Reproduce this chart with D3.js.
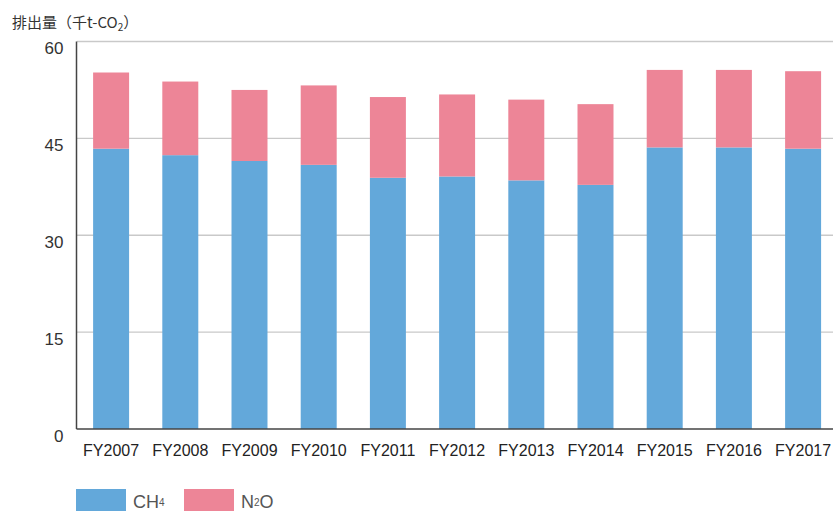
<!DOCTYPE html>
<html>
<head>
<meta charset="utf-8">
<script src="https://cdn.jsdelivr.net/npm/d3@7"></script>
<style>
body { margin: 0; background: #fff; }
svg { display: block; font-family: "Liberation Sans", Arial, sans-serif; }
</style>
</head>
<body>
<div id="chart"></div>
<script>
// data (thousand t-CO2)
let years = ['FY2007','FY2008','FY2009','FY2010','FY2011','FY2012','FY2013','FY2014','FY2015','FY2016','FY2017']
let ch4 = [43.4, 42.4, 41.5, 40.9, 38.9, 39.1, 38.5, 37.8, 43.6, 43.6, 43.4]
let n2o = [11.8, 11.4, 11.0, 12.3, 12.5, 12.7, 12.5, 12.5, 12.0, 12.0, 12.0]
let yTicks = [0, 15, 30, 45, 60]
let seriesNames = ['CH4', 'N2O']
let colors = ['#63a8da', '#ed8597']

let size = { width: 833, height: 511 }

let svg = d3.select('#chart')
  .append('svg')
  .attr('width', size.width)
  .attr('height', size.height)

let xScale = d3.scaleBand()
  .domain(years)
  .range([76.5, 837.7])
  .paddingInner(0.48)
  .paddingOuter(0.24)

let yScale = d3.scaleLinear()
  .domain([0, 60])
  .range([429, 41.5])

// stacked rows
let rows = years.map((y, i) => ({ year: y, CH4: ch4[i], N2O: n2o[i] }))
let stacked = d3.stack().keys(seriesNames)(rows)

// gridlines
svg.append('g')
  .selectAll('line')
  .data(yTicks.filter(d => d > 0))
  .join('line')
  .attr('x1', 77)
  .attr('x2', size.width)
  .attr('y1', d => yScale(d))
  .attr('y2', d => yScale(d))
  .attr('stroke', '#c9c9c9')
  .attr('stroke-width', 1.3)

// bars
svg.append('g')
  .selectAll('g')
  .data(stacked)
  .join('g')
  .attr('fill', (d, i) => colors[i])
  .selectAll('rect')
  .data(d => d)
  .join('rect')
  .attr('x', d => xScale(d.data.year))
  .attr('width', xScale.bandwidth())
  .attr('y', d => yScale(d[1]))
  .attr('height', d => yScale(d[0]) - yScale(d[1]))

// y axis
let yAxis = d3.axisLeft(yScale).tickValues(yTicks).tickSize(0).tickPadding(13)
let gY = svg.append('g')
  .attr('transform', 'translate(76.5,0)')
  .call(yAxis)
gY.select('.domain').remove()
gY.selectAll('text')
  .attr('font-size', 17)
  .attr('fill', '#333')
  .attr('dy', '0.95em')
  .attr('transform', 'translate(0,-4)')

svg.append('line')
  .attr('x1', 76.5).attr('x2', 76.5)
  .attr('y1', yScale(60)).attr('y2', yScale(0))
  .attr('stroke', '#444').attr('stroke-width', 1.5)

// x axis
let xAxis = d3.axisBottom(xScale).tickSize(0).tickPadding(16)
let gX = svg.append('g')
  .attr('transform', `translate(0,${yScale(0)})`)
  .call(xAxis)
gX.select('.domain')
  .attr('d', `M76.5,0H${size.width}`)
  .attr('stroke', '#444')
  .attr('stroke-width', 1.5)
gX.selectAll('text')
  .attr('font-size', 16)
  .attr('fill', '#222')

// unit title
let title = svg.append('text')
  .attr('x', 12)
  .attr('y', 28)
  .attr('font-family', '"Noto Sans CJK JP", sans-serif')
  .attr('font-size', 15)
  .attr('fill', '#333')
title.append('tspan').text('排出量（千t-CO')
title.append('tspan').attr('font-size', 10).attr('dy', 3).text('2')
title.append('tspan').attr('dy', -3).text('）')

// legend
let legX = [76, 184]
let leg = svg.append('g')
  .selectAll('g')
  .data(seriesNames)
  .join('g')
  .attr('transform', (d, i) => `translate(${legX[i]},489)`)
leg.append('rect')
  .attr('width', 50)
  .attr('height', 26)
  .attr('fill', (d, i) => colors[i])
let legText = leg.append('text')
  .attr('x', 57)
  .attr('y', 19)
  .attr('font-size', 18)
  .attr('fill', '#555')
legText.each(function (d) {
  let t = d3.select(this)
  if (d === 'CH4') {
    t.append('tspan').text('CH')
    t.append('tspan').attr('font-size', 10).attr('dy', -2).text('4')
  } else {
    t.append('tspan').text('N')
    t.append('tspan').attr('font-size', 10).attr('dy', -2).text('2')
    t.append('tspan').attr('dy', 2).text('O')
  }
})
</script>
</body>
</html>
